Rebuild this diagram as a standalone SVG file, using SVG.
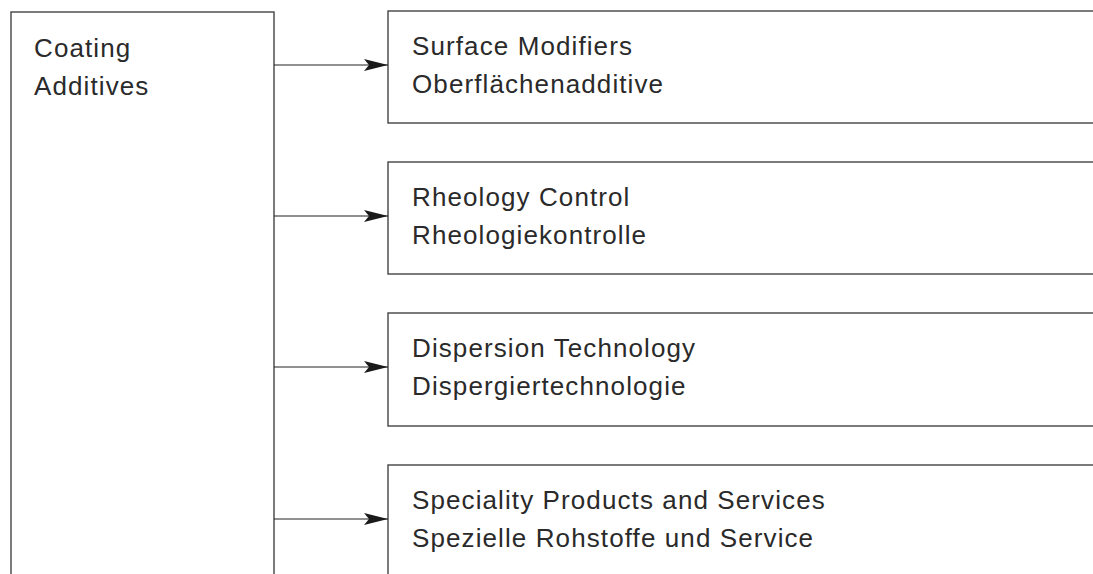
<svg xmlns="http://www.w3.org/2000/svg" width="1093" height="574" viewBox="0 0 1093 574">
  <style>
    .box { fill: #ffffff; stroke: #444444; stroke-width: 1.4; }
    .lbl { font-family: "Liberation Sans", Arial, sans-serif; font-size: 26px; letter-spacing: 1.1px; fill: #2a2a2a; }
    .conn { stroke: #222222; stroke-width: 1.2; fill: none; marker-end: url(#arrow); }
  </style>
  <defs>
    <marker id="arrow" markerUnits="userSpaceOnUse" markerWidth="26" markerHeight="14" viewBox="0 0 26 14" refX="24" refY="7" orient="auto">
      <path d="M24,7 L0,1 L5,7 L0,13 Z" fill="#1a1a1a"/>
    </marker>
  </defs>
  <rect width="1093" height="574" fill="#ffffff"/>

  <g id="coating-additives">
    <rect class="box" x="11" y="12" width="263" height="580"/>
    <text class="lbl" x="34" y="57">Coating</text>
    <text class="lbl" x="34" y="95">Additives</text>
  </g>

  <g id="surface-modifiers">
    <rect class="box" x="388" y="11" width="720" height="112"/>
    <text class="lbl" x="412" y="55">Surface Modifiers</text>
    <text class="lbl" x="412" y="93">Oberflächenadditive</text>
  </g>

  <g id="rheology-control">
    <rect class="box" x="388" y="162" width="720" height="112"/>
    <text class="lbl" x="412" y="206">Rheology Control</text>
    <text class="lbl" x="412" y="244">Rheologiekontrolle</text>
  </g>

  <g id="dispersion-technology">
    <rect class="box" x="388" y="313" width="720" height="113"/>
    <text class="lbl" x="412" y="357">Dispersion Technology</text>
    <text class="lbl" x="412" y="395">Dispergiertechnologie</text>
  </g>

  <g id="speciality-products">
    <rect class="box" x="388" y="465" width="720" height="130"/>
    <text class="lbl" x="412" y="509">Speciality Products and Services</text>
    <text class="lbl" x="412" y="547">Spezielle Rohstoffe und Service</text>
  </g>

  <g id="connectors">
    <line class="conn" x1="274" y1="65" x2="388" y2="65"/>
    <line class="conn" x1="274" y1="216" x2="388" y2="216"/>
    <line class="conn" x1="274" y1="367" x2="388" y2="367"/>
    <line class="conn" x1="274" y1="519" x2="388" y2="519"/>
  </g>
</svg>
